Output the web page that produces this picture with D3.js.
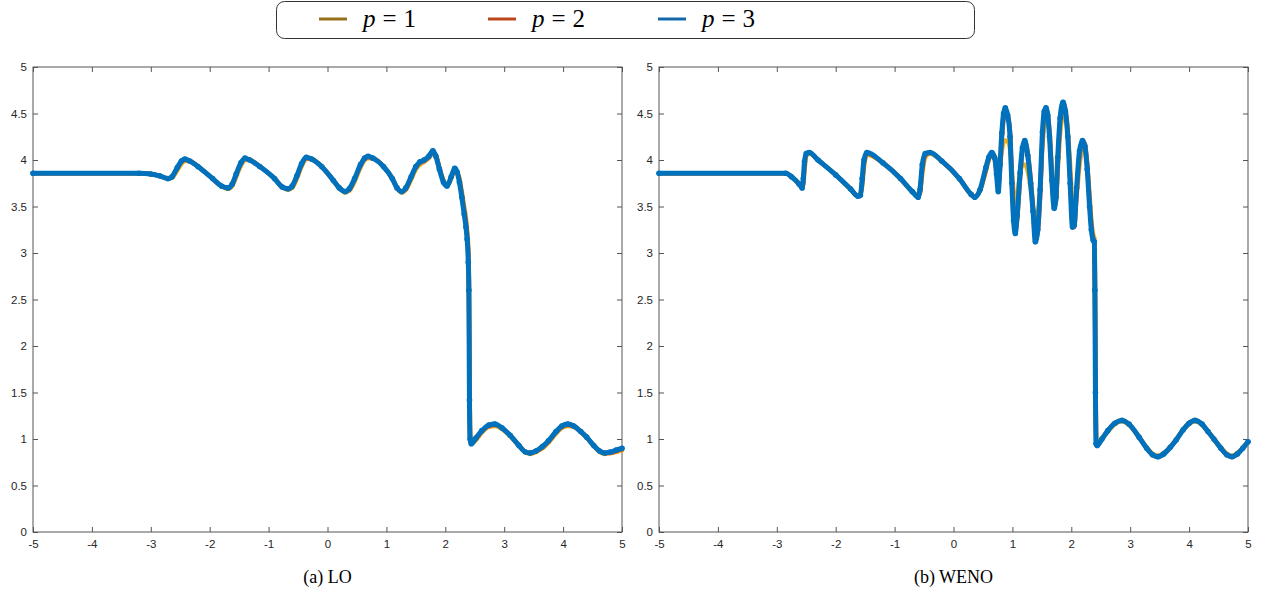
<!DOCTYPE html>
<html>
<head>
<meta charset="utf-8">
<script src="https://cdn.jsdelivr.net/npm/d3@7"></script>
<style>
  body { margin: 0; background: #fff; }
  svg { display: block; }
  .serif { font-family: "Liberation Serif", "DejaVu Serif", serif; }
</style>
</head>
<body>
<div id="chart"></div>
<script>
// series names, plot colours and legend colours
const seriesNames = ["1", "2", "3"];
const lineColors = ["#EDB120", "#D95319", "#0072BD"];
const legendColors = ["#977019", "#BC461B", "#1268AA"];

// panel (a) LO
const loX = [-5, -3.2, -3.0, -2.85, -2.71, -2.64, -2.55, -2.48, -2.42, -2.34,
  -2.2, -1.95, -1.80, -1.69, -1.62, -1.55, -1.47, -1.40, -1.32, -1.15,
  -0.9, -0.77, -0.67, -0.60, -0.52, -0.44, -0.36, -0.27, -0.1, 0.1,
  0.20, 0.30, 0.37, 0.46, 0.56, 0.63, 0.69, 0.77, 0.95, 1.1,
  1.18, 1.26, 1.33, 1.42, 1.50, 1.57, 1.64, 1.72, 1.79, 1.84,
  1.9, 1.97, 2.03, 2.10, 2.16, 2.20, 2.24, 2.28, 2.32, 2.35,
  2.37, 2.39, 2.40, 2.41, 2.42, 2.44, 2.52, 2.62, 2.74, 2.84,
  2.96, 3.1, 3.25, 3.36, 3.44, 3.54, 3.65, 3.75, 3.88, 3.98,
  4.08, 4.18, 4.3, 4.4, 4.52, 4.62, 4.71, 4.80, 4.90, 5.0];
const loP1 = [3.857, 3.857, 3.85, 3.83, 3.80, 3.81, 3.89, 3.96, 3.99, 3.99,
  3.93, 3.80, 3.72, 3.69, 3.72, 3.82, 3.94, 4.00, 4.00, 3.93,
  3.80, 3.71, 3.68, 3.70, 3.80, 3.93, 4.01, 4.01, 3.93, 3.78,
  3.70, 3.65, 3.67, 3.77, 3.92, 4.00, 4.02, 4.02, 3.93, 3.80,
  3.70, 3.65, 3.68, 3.79, 3.90, 3.95, 3.98, 4.02, 4.07, 4.05,
  3.92, 3.78, 3.73, 3.80, 3.88, 3.87, 3.80, 3.66, 3.50, 3.38,
  3.25, 3.05, 2.80, 2.00, 1.10, 0.95, 0.99, 1.07, 1.13, 1.14,
  1.11, 1.03, 0.93, 0.86, 0.84, 0.86, 0.90, 0.96, 1.06, 1.12,
  1.14, 1.13, 1.08, 1.01, 0.93, 0.86, 0.84, 0.85, 0.86, 0.88];
const loP2 = [3.857, 3.857, 3.85, 3.83, 3.80, 3.82, 3.91, 3.98, 4.00, 3.99,
  3.93, 3.80, 3.72, 3.70, 3.73, 3.84, 3.96, 4.01, 4.00, 3.93,
  3.80, 3.71, 3.69, 3.71, 3.82, 3.95, 4.02, 4.01, 3.93, 3.78,
  3.70, 3.66, 3.68, 3.79, 3.94, 4.01, 4.03, 4.02, 3.93, 3.80,
  3.70, 3.66, 3.69, 3.81, 3.92, 3.97, 3.99, 4.03, 4.08, 4.05,
  3.91, 3.77, 3.72, 3.81, 3.89, 3.87, 3.78, 3.63, 3.46, 3.33,
  3.20, 2.98, 2.70, 1.70, 1.05, 0.95, 1.00, 1.08, 1.14, 1.15,
  1.12, 1.04, 0.93, 0.86, 0.85, 0.87, 0.91, 0.97, 1.07, 1.13,
  1.15, 1.14, 1.08, 1.02, 0.93, 0.87, 0.85, 0.85, 0.87, 0.89];
const loP3 = [3.857, 3.857, 3.85, 3.83, 3.80, 3.82, 3.92, 3.99, 4.01, 3.99,
  3.93, 3.80, 3.72, 3.70, 3.74, 3.85, 3.97, 4.02, 4.00, 3.93,
  3.80, 3.71, 3.69, 3.72, 3.83, 3.96, 4.03, 4.01, 3.93, 3.78,
  3.70, 3.66, 3.69, 3.80, 3.95, 4.02, 4.04, 4.02, 3.93, 3.80,
  3.70, 3.66, 3.70, 3.82, 3.93, 3.98, 4.00, 4.04, 4.10, 4.04,
  3.90, 3.76, 3.72, 3.82, 3.91, 3.87, 3.76, 3.60, 3.42, 3.28,
  3.15, 2.90, 2.60, 1.42, 1.00, 0.95, 1.01, 1.09, 1.15, 1.16,
  1.12, 1.04, 0.93, 0.86, 0.85, 0.87, 0.92, 0.98, 1.08, 1.14,
  1.16, 1.14, 1.08, 1.02, 0.93, 0.87, 0.85, 0.86, 0.88, 0.90];

// panel (b) WENO
const wenoX = [-5, -2.85, -2.75, -2.62, -2.57, -2.55, -2.53, -2.50, -2.45, -2.3,
  -2.0, -1.75, -1.62, -1.58, -1.55, -1.52, -1.47, -1.2, -0.9, -0.7,
  -0.60, -0.57, -0.53, -0.48, -0.40, -0.2, 0.1, 0.30, 0.36, 0.45,
  0.55, 0.60, 0.65, 0.70, 0.73, 0.76, 0.79, 0.82, 0.85, 0.88,
  0.92, 0.96, 0.99, 1.02, 1.05, 1.08, 1.13, 1.17, 1.21, 1.26,
  1.31, 1.35, 1.39, 1.43, 1.47, 1.51, 1.54, 1.57, 1.60, 1.63,
  1.67, 1.71, 1.74, 1.77, 1.81, 1.86, 1.90, 1.94, 1.98, 2.02,
  2.05, 2.09, 2.14, 2.19, 2.23, 2.27, 2.31, 2.34, 2.37, 2.39,
  2.40, 2.41, 2.42, 2.44, 2.52, 2.62, 2.74, 2.86, 2.98, 3.15,
  3.28, 3.38, 3.47, 3.57, 3.68, 3.78, 3.90, 4.00, 4.10, 4.22,
  4.32, 4.42, 4.54, 4.64, 4.73, 4.82, 4.91, 5.0];
const wenoP1 = [3.857, 3.857, 3.82, 3.75, 3.72, 3.74, 3.88, 4.04, 4.07, 4.00,
  3.84, 3.69, 3.62, 3.64, 3.72, 3.92, 4.06, 3.97, 3.80, 3.66,
  3.62, 3.64, 3.85, 4.03, 4.07, 3.99, 3.80, 3.63, 3.61, 3.67,
  3.88, 4.00, 4.06, 4.04, 3.95, 3.88, 3.95, 4.10, 4.19, 4.21,
  4.20, 4.12, 3.90, 3.65, 3.56, 3.60, 3.85, 3.95, 3.95, 3.88,
  3.70, 3.48, 3.35, 3.40, 3.70, 4.15, 4.38, 4.45, 4.42, 4.28,
  3.92, 3.62, 3.60, 3.88, 4.28, 4.48, 4.47, 4.30, 3.95, 3.52,
  3.45, 3.62, 3.95, 4.10, 4.10, 3.95, 3.62, 3.35, 3.20, 3.16,
  2.90, 1.90, 1.10, 0.94, 1.00, 1.08, 1.16, 1.19, 1.15, 1.02,
  0.91, 0.84, 0.82, 0.85, 0.91, 0.99, 1.10, 1.16, 1.19, 1.15,
  1.08, 1.00, 0.91, 0.84, 0.82, 0.85, 0.90, 0.97];
const wenoP2 = [3.857, 3.857, 3.82, 3.74, 3.71, 3.76, 3.94, 4.06, 4.08, 4.00,
  3.84, 3.69, 3.61, 3.63, 3.76, 3.96, 4.07, 3.97, 3.80, 3.66,
  3.61, 3.65, 3.90, 4.05, 4.08, 3.99, 3.80, 3.63, 3.60, 3.68,
  3.90, 4.02, 4.07, 4.03, 3.88, 3.72, 3.90, 4.22, 4.44, 4.52,
  4.48, 4.30, 3.85, 3.42, 3.25, 3.36, 3.80, 4.10, 4.20, 4.08,
  3.80, 3.50, 3.15, 3.22, 3.60, 4.22, 4.48, 4.54, 4.50, 4.30,
  3.85, 3.50, 3.56, 3.96, 4.40, 4.60, 4.54, 4.30, 3.82, 3.32,
  3.28, 3.64, 4.05, 4.20, 4.17, 3.95, 3.56, 3.30, 3.16, 3.13,
  2.75, 1.75, 1.00, 0.93, 1.00, 1.09, 1.17, 1.20, 1.16, 1.02,
  0.90, 0.83, 0.81, 0.84, 0.91, 0.99, 1.10, 1.17, 1.20, 1.16,
  1.08, 1.00, 0.90, 0.83, 0.81, 0.84, 0.90, 0.97];
const wenoP3 = [3.857, 3.857, 3.82, 3.74, 3.70, 3.80, 3.98, 4.07, 4.08, 4.00,
  3.84, 3.69, 3.61, 3.62, 3.80, 4.00, 4.08, 3.97, 3.80, 3.66,
  3.60, 3.68, 3.95, 4.07, 4.08, 3.99, 3.80, 3.63, 3.60, 3.68,
  3.92, 4.03, 4.08, 4.02, 3.85, 3.66, 3.95, 4.29, 4.50, 4.56,
  4.48, 4.25, 3.75, 3.35, 3.21, 3.40, 3.86, 4.13, 4.21, 4.05,
  3.75, 3.45, 3.12, 3.25, 3.68, 4.30, 4.52, 4.56, 4.48, 4.25,
  3.78, 3.48, 3.60, 4.03, 4.45, 4.62, 4.52, 4.25, 3.75, 3.28,
  3.30, 3.70, 4.10, 4.21, 4.15, 3.90, 3.50, 3.25, 3.14, 3.12,
  2.60, 1.50, 0.95, 0.93, 1.00, 1.09, 1.17, 1.20, 1.16, 1.02,
  0.90, 0.83, 0.81, 0.84, 0.91, 0.99, 1.10, 1.17, 1.20, 1.16,
  1.08, 1.00, 0.90, 0.83, 0.81, 0.84, 0.90, 0.97];

const xTicks = [-5, -4, -3, -2, -1, 0, 1, 2, 3, 4, 5];
const yTicks = [0, 0.5, 1, 1.5, 2, 2.5, 3, 3.5, 4, 4.5, 5];

const panels = [
  { caption: "(a) LO", left: 33, xs: loX, ys: [loP1, loP2, loP3] },
  { caption: "(b) WENO", left: 659, xs: wenoX, ys: [wenoP1, wenoP2, wenoP3] }
];

const W = 1266, H = 598;
const plotW = 589, plotTop = 67, plotBottom = 532;

const svg = d3.select("#chart").append("svg")
  .attr("width", W)
  .attr("height", H);

// Legend
const legend = svg.append("g");
legend.append("rect")
  .attr("x", 276.5).attr("y", 1.5)
  .attr("width", 698).attr("height", 37)
  .attr("rx", 8)
  .attr("fill", "#fff")
  .attr("stroke", "#333")
  .attr("stroke-width", 1);

const legendX = [319, 488, 658];
seriesNames.forEach((name, i) => {
  const g = legend.append("g").attr("transform", `translate(${legendX[i]},19)`);
  g.append("line")
    .attr("x1", 0).attr("x2", 28)
    .attr("stroke", legendColors[i])
    .attr("stroke-width", 3);
  const t = g.append("text")
    .attr("class", "serif")
    .attr("x", 44).attr("y", 8)
    .attr("font-size", 25)
    .attr("fill", "#000");
  t.append("tspan").attr("font-style", "italic").text("p");
  t.append("tspan").attr("dx", 7).text("=");
  t.append("tspan").attr("dx", 7).text(name);
});

panels.forEach(p => {
  const x = d3.scaleLinear().domain([-5, 5]).range([p.left, p.left + plotW]);
  const y = d3.scaleLinear().domain([0, 5]).range([plotBottom, plotTop]);
  const g = svg.append("g");

  // box
  g.append("rect")
    .attr("x", p.left).attr("y", plotTop)
    .attr("width", plotW).attr("height", plotBottom - plotTop)
    .attr("fill", "none")
    .attr("stroke", "#555")
    .attr("stroke-width", 1);

  const fmt = d => String(d);

  g.append("g")
    .attr("transform", `translate(0,${plotBottom})`)
    .call(d3.axisBottom(x).tickValues(xTicks).tickSize(-5).tickPadding(8).tickFormat(fmt));
  g.append("g")
    .attr("transform", `translate(0,${plotTop})`)
    .call(d3.axisTop(x).tickValues(xTicks).tickSize(-5).tickFormat(""));
  g.append("g")
    .attr("transform", `translate(${p.left},0)`)
    .call(d3.axisLeft(y).tickValues(yTicks).tickSize(-5).tickPadding(6).tickFormat(fmt));
  g.append("g")
    .attr("transform", `translate(${p.left + plotW},0)`)
    .call(d3.axisRight(y).tickValues(yTicks).tickSize(-5).tickFormat(""));

  g.selectAll(".domain").remove();
  g.selectAll(".tick line").attr("stroke", "#555");
  g.selectAll(".tick text")
    .attr("fill", "#262626")
    .style("font-family", "'Liberation Sans', Arial, sans-serif")
    .style("font-size", "11.5px");

  // curves
  const line = d3.line()
    .x(d => x(d[0]))
    .y(d => y(d[1]))
    .curve(d3.curveMonotoneX);

  p.ys.forEach((ys, i) => {
    const pts = d3.zip(p.xs, ys);
    g.append("path")
      .attr("d", line(pts))
      .attr("fill", "none")
      .attr("stroke", lineColors[i])
      .attr("stroke-width", i === 2 ? 5 : 4.5)
      .attr("stroke-linejoin", "round")
      .attr("stroke-linecap", "round");
    g.selectAll(null)
      .data(pts)
      .join("circle")
        .attr("cx", d => x(d[0]))
        .attr("cy", d => y(d[1]))
        .attr("r", i === 2 ? 2.8 : 2)
        .attr("fill", lineColors[i]);
  });

  // caption
  svg.append("text")
    .attr("class", "serif")
    .attr("x", p.left + plotW / 2)
    .attr("y", 583)
    .attr("text-anchor", "middle")
    .attr("font-size", 18)
    .attr("fill", "#000")
    .text(p.caption);
});
</script>
</body>
</html>
